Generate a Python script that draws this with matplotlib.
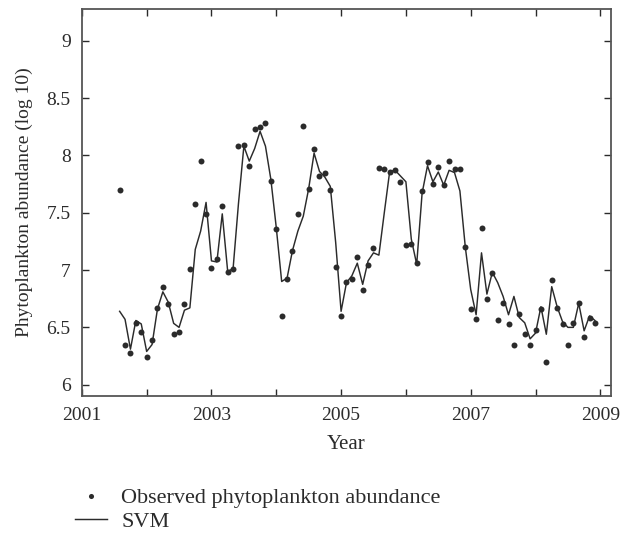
import numpy as np
import matplotlib
matplotlib.use('Agg')
import matplotlib.pyplot as plt

# monthly samples, Aug 2001 .. Dec 2008
start_year = 2001 + 7 / 12.
observed = [7.70, 6.35, 6.28, 6.535, 6.46, 6.245, 6.39, 6.67, 6.85, 6.70,
            6.44, 6.46, 6.70, 7.01, 7.58, 7.95, 7.49, 7.02, 7.10, 7.56,
            6.98, 7.01, 8.08, 8.09, 7.91, 8.23, 8.25, 8.28, 7.78, 7.36,
            6.60, 6.92, 7.17, 7.49, 8.26, 7.71, 8.06, 7.82, 7.85, 7.70,
            7.03, 6.60, 6.90, 6.925, 7.11, 6.83, 7.04, 7.19, 7.89, 7.88,
            7.855, 7.87, 7.77, 7.215, 7.23, 7.06, 7.69, 7.945, 7.75, 7.90,
            7.745, 7.95, 7.88, 7.88, 7.20, 6.66, 6.57, 7.37, 6.745, 6.97,
            6.56, 6.71, 6.53, 6.35, 6.62, 6.44, 6.35, 6.48, 6.66, 6.20,
            6.91, 6.67, 6.53, 6.35, 6.535, 6.71, 6.42, 6.585, 6.54]
svm = [6.64, 6.57, 6.31, 6.56, 6.53, 6.29, 6.35, 6.66, 6.81, 6.72,
       6.535, 6.50, 6.65, 6.67, 7.18, 7.34, 7.59, 7.08, 7.07, 7.49,
       6.99, 7.01, 7.58, 8.08, 7.95, 8.06, 8.21, 8.08, 7.79, 7.37,
       6.90, 6.93, 7.17, 7.34, 7.47, 7.71, 8.02, 7.86, 7.81, 7.73,
       7.24, 6.64, 6.89, 6.95, 7.06, 6.875, 7.08, 7.15, 7.13, 7.50,
       7.86, 7.87, 7.82, 7.77, 7.27, 7.05, 7.67, 7.91, 7.77, 7.855,
       7.74, 7.87, 7.85, 7.69, 7.20, 6.83, 6.61, 7.15, 6.79, 6.98,
       6.89, 6.77, 6.61, 6.77, 6.585, 6.54, 6.40, 6.45, 6.68, 6.44,
       6.855, 6.68, 6.55, 6.50, 6.50, 6.71, 6.47, 6.60, 6.56]
years = start_year + np.arange(len(observed)) / 12.

x_ticks = list(range(2001, 2010))
x_ticklabels = [str(y) if y % 2 == 1 else '' for y in x_ticks]
y_ticks = [6, 6.5, 7, 7.5, 8, 8.5, 9]
y_ticklabels = ['6', '6.5', '7', '7.5', '8', '8.5', '9']

plt.rcParams['font.family'] = ['Liberation Serif', 'DejaVu Serif']
ink = '#2b2b2b'

fig = plt.figure(figsize=(6.2, 5.39), dpi=100)
ax = fig.add_axes([0.132, 0.265, 0.853, 0.719])

ax.plot(years, observed, 'o', color=ink, markersize=4.3, markeredgewidth=0,
        label='Observed phytoplankton abundance')
ax.plot(years, svm, '-', color=ink, linewidth=1.05, label='SVM')

ax.set_xlim(2001, 2009.16)
ax.set_ylim(5.9, 9.28)
ax.set_xticks(x_ticks)
ax.set_xticklabels(x_ticklabels)
ax.set_yticks(y_ticks)
ax.set_yticklabels(y_ticklabels)
ax.tick_params(direction='in', top=True, right=True, length=5, width=1,
               colors=ink, labelsize=14, pad=8)
for side in ['bottom', 'top', 'left', 'right']:
    ax.spines[side].set_color('#555555')
    ax.spines[side].set_linewidth(1.3)

ax.set_xlabel('Year', fontsize=15, color=ink, labelpad=8)
ax.set_ylabel('Phytoplankton abundance (log 10)', fontsize=14, color=ink, labelpad=10)

leg = ax.legend(loc='upper left', bbox_to_anchor=(0.121, 0.095),
                bbox_transform=fig.transFigure, frameon=False, fontsize=16,
                borderpad=0, borderaxespad=0, handlelength=1.44,
                handletextpad=0.63, labelspacing=0.12, markerscale=0.85)
for t in leg.get_texts():
    t.set_color(ink)

fig.savefig('out.png', dpi=100)
